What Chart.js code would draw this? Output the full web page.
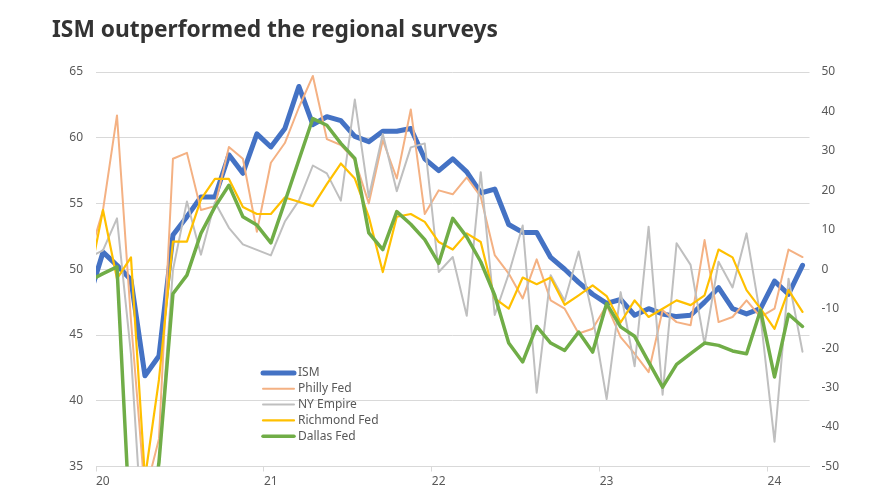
<!DOCTYPE html>
<html>
<head>
<meta charset="utf-8">
<script src="https://cdn.jsdelivr.net/npm/chart.js@4.4.1/dist/chart.umd.min.js"></script>
<style>
  html, body { margin: 0; padding: 0; background: #fff; }
</style>
</head>
<body>
<canvas id="ismChart" width="870" height="492"></canvas>
<script>
// monthly readings, Dec 2019 .. Mar 2024 (Dec 2019 sits just left of the axis and is clipped)
const months = [];
for (let y = 2019; y <= 2024; y++) {
  for (let m = 1; m <= 12; m++) {
    if ((y === 2019 && m < 12) || (y === 2024 && m > 3)) continue;
    months.push(y + '-' + String(m).padStart(2, '0'));
  }
}
const yearLabels = ['20', '21', '22', '23', '24'];

// left axis
const ism = [47.8,
  51.3, 50.3, 49.2, 41.9, 43.4, 52.6, 54.0, 55.5, 55.5, 58.7, 57.3, 60.3,
  59.3, 60.7, 63.9, 61.0, 61.6, 61.3, 60.1, 59.7, 60.5, 60.5, 60.7, 58.4,
  57.5, 58.4, 57.4, 55.8, 56.1, 53.4, 52.8, 52.8, 50.9, 50.0, 49.0, 48.1,
  47.4, 47.7, 46.5, 47.0, 46.6, 46.4, 46.5, 47.5, 48.6, 47.0, 46.6, 47.0,
  49.1, 48.1, 50.3];

// right axis
const phillyFed = [3,
  15, 39, -13, -57, -43, 28, 29.5, 15, 16, 31, 28, 9.5,
  27, 32, 41, 49, 33, 31.5, 27.7, 16.7, 32.7, 23, 40.5, 14,
  20, 19, 23.3, 18.4, 3.6, -1.1, -7.4, 2.5, -7.9, -10, -16.3, -15.1,
  -9.1, -17.2, -21.4, -26.1, -10.4, -13.4, -14.2, 7.4, -13.4, -12.1, -7.9, -12.1,
  -10, 5, 3.1];

const nyEmpire = [3,
  4.8, 12.9, -21.5, -78.2, -48.5, -0.2, 17.2, 3.7, 17.0, 10.5, 6.3, 4.9,
  3.5, 12.1, 17.4, 26.3, 24.3, 17.4, 43.0, 18.3, 34.3, 19.8, 30.9, 31.9,
  -0.7, 3.1, -11.8, 24.6, -11.6, -1.2, 11.1, -31.3, -1.5, -8, 4.5, -12,
  -32.9, -5.8, -24.6, 10.8, -31.8, 6.6, 1.1, -19.0, 1.9, -4.6, 9.1, -12,
  -43.7, -2.4, -20.9];

const richmondFed = [-3,
  15, -2.4, 3, -53, -28, 7, 7, 17.7, 22.9, 22.9, 15.8, 14,
  14, 18.2, 17.1, 16, 21.6, 26.8, 23, 13.3, -0.7, 13.3, 14, 12,
  6.9, 5, 9.1, 6.9, -7.4, -10, -2.1, -3.8, -2.1, -9, -6.6, -4.1,
  -6.8, -13.5, -7.9, -12.1, -10, -7.9, -9.1, -6.6, 5, 3, -5.3, -10,
  -15.1, -5.3, -10.8];

const dallasFed = [-3,
  -1.1, 0.6, -70, -74, -49, -6.2, -1.5, 9.1, 15.8, 21.3, 13.3, 11.2,
  6.7, 17.1, 27.7, 38.2, 36.5, 31.9, 28.1, 9.2, 5, 14.6, 11.4, 7.5,
  1.5, 12.9, 8.2, 1.9, -6.6, -18.7, -23.5, -14.5, -18.7, -20.6, -15.9, -21,
  -8.7, -14.6, -17, -23.5, -29.9, -24.1, -21.4, -18.7, -19.3, -20.7, -21.4, -10.4,
  -27.3, -11.4, -14.5];

const title = 'ISM outperformed the regional surveys';

// x position = months since Jan 2020
const janIdx = months.indexOf('2020-01');
const toPoints = arr => arr.map((v, i) => ({ x: i - janIdx, y: v }));
const yearTicks = yearLabels.map((_, k) => months.indexOf('20' + yearLabels[k] + '-01') - janIdx - 0.5);

const labelColor = '#595959';
const gridColor = '#d9d9d9';
const tickFont = { family: '"Noto Sans"', size: 12 };

function series(label, data, color, width, axis, order) {
  return {
    label: label,
    data: toPoints(data),
    borderColor: color,
    backgroundColor: color,
    borderWidth: width,
    yAxisID: axis,
    order: order,
    pointRadius: 0,
    tension: 0,
    borderJoinStyle: 'round',
    borderCapStyle: 'round',
    clip: 0
  };
}

const overlay = {
  id: 'overlay',
  afterDraw(chart) {
    const ctx = chart.ctx;
    ctx.save();
    ctx.font = 'bold 24px "Noto Sans"';
    ctx.fillStyle = '#333333';
    ctx.textBaseline = 'alphabetic';
    const w = ctx.measureText(title).width;
    ctx.translate(52, 37);
    ctx.scale(446 / w, 1);
    ctx.fillText(title, 0, 0);
    ctx.restore();

    // legend inside the plot
    ctx.save();
    ctx.font = '12px "Noto Sans"';
    ctx.textBaseline = 'middle';
    chart.data.datasets.forEach((ds, i) => {
      const y = 373 + i * 15.8;
      ctx.strokeStyle = ds.borderColor;
      ctx.lineWidth = ds.borderWidth;
      ctx.lineCap = 'round';
      ctx.beginPath();
      ctx.moveTo(263, y);
      ctx.lineTo(294, y);
      ctx.stroke();
      ctx.fillStyle = labelColor;
      ctx.fillText(ds.label, 298, y);
    });
    ctx.restore();
  }
};

new Chart(document.getElementById('ismChart'), {
  type: 'line',
  data: {
    datasets: [
      series('ISM', ism, '#4472c4', 5, 'yL', 5),
      series('Philly Fed', phillyFed, '#f4b183', 2, 'yR', 4),
      series('NY Empire', nyEmpire, '#bfbfbf', 2, 'yR', 3),
      series('Richmond Fed', richmondFed, '#ffc000', 2.2, 'yR', 2),
      series('Dallas Fed', dallasFed, '#70ad47', 3.5, 'yR', 1)
    ]
  },
  options: {
    responsive: false,
    animation: false,
    layout: { padding: { top: 72, left: 0, right: 0, bottom: 0 } },
    plugins: {
      legend: { display: false },
      tooltip: { enabled: false },
      title: { display: false }
    },
    scales: {
      x: {
        type: 'linear',
        min: -0.5,
        max: 50.5,
        afterBuildTicks: scale => { scale.ticks = yearTicks.map(v => ({ value: v })); },
        afterFit: scale => { scale.height = 25.5; },
        ticks: {
          autoSkip: false,
          maxRotation: 0,
          align: 'start',
          padding: 3,
          color: labelColor,
          font: tickFont,
          callback: v => yearLabels[yearTicks.indexOf(v)]
        },
        grid: { drawOnChartArea: false, drawTicks: true, tickLength: 5, color: gridColor },
        border: { display: true, color: gridColor }
      },
      yL: {
        position: 'left',
        min: 35,
        max: 65,
        afterFit: scale => { scale.width = 96; },
        ticks: { stepSize: 5, padding: 13, color: labelColor, font: tickFont },
        grid: { color: gridColor, drawTicks: false },
        border: { display: false }
      },
      yR: {
        position: 'right',
        min: -50,
        max: 50,
        afterFit: scale => { scale.width = 60.5; },
        ticks: { stepSize: 10, padding: 12, color: labelColor, font: tickFont },
        grid: { drawOnChartArea: false, drawTicks: false },
        border: { display: false }
      }
    }
  },
  plugins: [overlay]
});
</script>
</body>
</html>
